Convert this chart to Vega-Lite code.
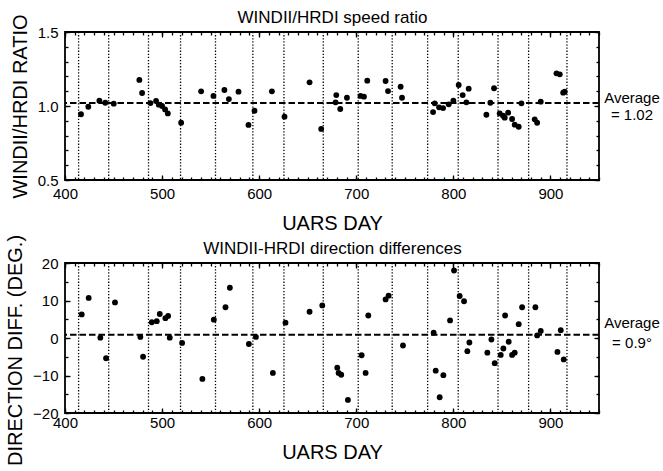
{
  "$schema": "https://vega.github.io/schema/vega-lite/v6.json",
  "padding": {"left": 4, "top": 7, "right": 5, "bottom": 5},
  "background": "white",
  "bounds": "flush",
  "spacing": 83,
  "datasets": {
    "ratio": [
      {"day": 416.5, "ratio": 0.944}, {"day": 424, "ratio": 0.995}, {"day": 435.4, "ratio": 1.036}, {"day": 441.5, "ratio": 1.022},
      {"day": 450.2, "ratio": 1.016}, {"day": 476.6, "ratio": 1.176}, {"day": 479.4, "ratio": 1.088}, {"day": 488, "ratio": 1.02},
      {"day": 493.8, "ratio": 1.034}, {"day": 496.6, "ratio": 1.009}, {"day": 500, "ratio": 1.0}, {"day": 503.1, "ratio": 0.977},
      {"day": 505.9, "ratio": 0.95}, {"day": 519.6, "ratio": 0.887}, {"day": 540.2, "ratio": 1.099}, {"day": 552.9, "ratio": 1.068},
      {"day": 564.2, "ratio": 1.108}, {"day": 568.8, "ratio": 1.047}, {"day": 578.7, "ratio": 1.097}, {"day": 589, "ratio": 0.872},
      {"day": 595.2, "ratio": 0.968}, {"day": 613.1, "ratio": 1.099}, {"day": 626.1, "ratio": 0.928}, {"day": 651.9, "ratio": 1.16},
      {"day": 663.9, "ratio": 0.845}, {"day": 679.4, "ratio": 1.074}, {"day": 678.7, "ratio": 1.025}, {"day": 683.5, "ratio": 0.98},
      {"day": 690.4, "ratio": 1.056}, {"day": 704.4, "ratio": 1.068}, {"day": 707.9, "ratio": 1.063}, {"day": 711.3, "ratio": 1.171},
      {"day": 730.2, "ratio": 1.169}, {"day": 732.7, "ratio": 1.101}, {"day": 745.7, "ratio": 1.13}, {"day": 747.1, "ratio": 1.056},
      {"day": 779.1, "ratio": 0.959}, {"day": 780.8, "ratio": 1.018}, {"day": 785.3, "ratio": 0.991}, {"day": 789.4, "ratio": 0.986},
      {"day": 795.2, "ratio": 1.011}, {"day": 800, "ratio": 1.036}, {"day": 805.5, "ratio": 1.142}, {"day": 809.6, "ratio": 1.074},
      {"day": 813.4, "ratio": 1.025}, {"day": 815.8, "ratio": 1.117}, {"day": 834, "ratio": 0.941}, {"day": 838.1, "ratio": 1.022},
      {"day": 841.9, "ratio": 1.12}, {"day": 847.7, "ratio": 0.95}, {"day": 851.2, "ratio": 0.934}, {"day": 852.9, "ratio": 0.921},
      {"day": 856.4, "ratio": 0.955}, {"day": 860.5, "ratio": 0.912}, {"day": 863.2, "ratio": 0.874}, {"day": 867.3, "ratio": 0.86},
      {"day": 870.1, "ratio": 1.018}, {"day": 883.8, "ratio": 0.91}, {"day": 886.3, "ratio": 0.887}, {"day": 890, "ratio": 1.029},
      {"day": 906.2, "ratio": 1.221}, {"day": 909.6, "ratio": 1.214}, {"day": 913.1, "ratio": 1.09}, {"day": 914.7, "ratio": 1.097}
    ],
    "diff": [
      {"day": 417.2, "diff": 6.3}, {"day": 424.4, "diff": 10.7}, {"day": 436.4, "diff": 0.1}, {"day": 442.3, "diff": -5.4},
      {"day": 451.5, "diff": 9.5}, {"day": 477.6, "diff": 0.3}, {"day": 480.4, "diff": -5.0}, {"day": 489.4, "diff": 4.2},
      {"day": 494.5, "diff": 4.5}, {"day": 497.6, "diff": 6.4}, {"day": 503.4, "diff": 5.3}, {"day": 506.2, "diff": 5.9},
      {"day": 507.9, "diff": 0.1}, {"day": 520.6, "diff": -1.3}, {"day": 541.5, "diff": -10.9}, {"day": 553.3, "diff": 4.9},
      {"day": 565.3, "diff": 8.2}, {"day": 569.8, "diff": 13.4}, {"day": 589.4, "diff": -1.6}, {"day": 596.6, "diff": 0.3},
      {"day": 614.1, "diff": -9.3}, {"day": 627.1, "diff": 4.1}, {"day": 651.9, "diff": 7.0}, {"day": 665, "diff": 8.7},
      {"day": 680.4, "diff": -7.9}, {"day": 681.8, "diff": -9.3}, {"day": 684.5, "diff": -9.8}, {"day": 691.4, "diff": -16.5},
      {"day": 705.5, "diff": -4.6}, {"day": 709.6, "diff": -9.3}, {"day": 712.4, "diff": 6.0}, {"day": 730.2, "diff": 10.3},
      {"day": 733.3, "diff": 11.3}, {"day": 748.1, "diff": -2.0}, {"day": 779.7, "diff": 1.4}, {"day": 781.8, "diff": -8.7},
      {"day": 789.7, "diff": -9.9}, {"day": 785.9, "diff": -15.8}, {"day": 796.6, "diff": 4.7}, {"day": 800.7, "diff": 18.0},
      {"day": 806.5, "diff": 11.2}, {"day": 811, "diff": 9.8}, {"day": 814.4, "diff": -3.5}, {"day": 816.5, "diff": -1.2},
      {"day": 835, "diff": -3.9}, {"day": 839.2, "diff": -0.4}, {"day": 842.6, "diff": -6.7}, {"day": 848.8, "diff": -4.5},
      {"day": 851.5, "diff": -2.8}, {"day": 853.3, "diff": 6.0}, {"day": 857, "diff": -1.0}, {"day": 860.5, "diff": -4.5},
      {"day": 863.2, "diff": -3.9}, {"day": 867.3, "diff": 3.7}, {"day": 870.8, "diff": 8.2}, {"day": 884.5, "diff": 8.2},
      {"day": 886.3, "diff": 0.7}, {"day": 890, "diff": 1.9}, {"day": 907.2, "diff": -3.7}, {"day": 910.6, "diff": 2.1},
      {"day": 913.7, "diff": -5.7}
    ],
    "yaw": [
      {"day": 414}, {"day": 445}, {"day": 486}, {"day": 519}, {"day": 555}, {"day": 593.5}, {"day": 625.5}, {"day": 666},
      {"day": 702}, {"day": 737}, {"day": 773.5}, {"day": 805}, {"day": 846}, {"day": 877.5}, {"day": 917}
    ],
    "avgRatio": [{"day": 950, "value": 1.02, "label": "= 1.02", "head": "Average"}],
    "avgDiff": [{"day": 950, "value": 0.9, "label": "= 0.9°", "head": "Average"}]
  },
  "vconcat": [
    {
      "width": 534,
      "height": 148,
      "resolve": {"axis": {"x": "independent", "y": "independent"}},
      "layer": [
        {
          "data": {"name": "yaw"},
          "mark": {"type": "rule", "color": "black", "strokeWidth": 1.3, "strokeDash": [1.3, 1.8]},
          "encoding": {
            "x": {"field": "day", "type": "quantitative", "scale": {"domain": [400, 950], "nice": false, "zero": false},
              "axis": {"orient": "bottom", "values": [400,410,420,430,440,450,460,470,480,490,500,510,520,530,540,550,560,570,580,590,600,610,620,630,640,650,660,670,680,690,700,710,720,730,740,750,760,770,780,790,800,810,820,830,840,850,860,870,880,890,900,910,920,930,940,950], "labels": false, "title": null, "tickSize": -3}}
          }
        },
        {
          "data": {"name": "avgRatio"},
          "mark": {"type": "rule", "color": "black", "strokeWidth": 2, "strokeDash": [6.5, 3]},
          "encoding": {
            "y": {"field": "value", "type": "quantitative", "scale": {"domain": [0.5, 1.5], "nice": false, "zero": false},
              "axis": {"orient": "left", "values": [0.5,0.6,0.7,0.8,0.9,1.0,1.1,1.2,1.3,1.4,1.5], "labels": false, "title": null, "tickSize": -3}}
          }
        },
        {
          "data": {"name": "ratio"},
          "mark": {"type": "point", "filled": true, "shape": "circle", "color": "black", "opacity": 1, "size": 34},
          "encoding": {
            "x": {"field": "day", "type": "quantitative", "scale": {"domain": [400, 950], "nice": false, "zero": false},
              "axis": {"orient": "bottom", "values": [400, 500, 600, 700, 800, 900], "tickSize": -5, "labelPadding": 11, "labelFontSize": 15, "title": "UARS DAY", "titleFontSize": 20, "titlePadding": 12}},
            "y": {"field": "ratio", "type": "quantitative", "scale": {"domain": [0.5, 1.5], "nice": false, "zero": false},
              "axis": {"orient": "left", "values": [0.5, 1.0, 1.5], "format": ".1f", "tickSize": -5, "labelPadding": 12, "labelFontSize": 15, "title": "WINDII/HRDI RATIO", "titleFontSize": 20, "titlePadding": 7}}
          }
        },
        {
          "data": {"name": "avgRatio"},
          "mark": {"type": "text", "align": "center", "baseline": "alphabetic", "dx": 33, "dy": 0, "fontSize": 15, "font": "Liberation Sans", "color": "black"},
          "encoding": {
            "x": {"field": "day", "type": "quantitative", "scale": {"domain": [400, 950], "nice": false, "zero": false},
              "axis": {"orient": "top", "values": [400,410,420,430,440,450,460,470,480,490,500,510,520,530,540,550,560,570,580,590,600,610,620,630,640,650,660,670,680,690,700,710,720,730,740,750,760,770,780,790,800,810,820,830,840,850,860,870,880,890,900,910,920,930,940,950], "labels": false, "title": null, "tickSize": -3}},
            "y": {"field": "value", "type": "quantitative", "scale": {"domain": [0.5, 1.5], "nice": false, "zero": false},
              "axis": {"orient": "right", "values": [0.5,0.6,0.7,0.8,0.9,1.0,1.1,1.2,1.3,1.4,1.5], "labels": false, "title": null, "tickSize": -3}},
            "text": {"field": "head"}
          }
        },
        {
          "data": {"name": "avgRatio"},
          "mark": {"type": "text", "align": "center", "baseline": "alphabetic", "dx": 33, "dy": 17, "fontSize": 15, "font": "Liberation Sans", "color": "black"},
          "encoding": {
            "x": {"field": "day", "type": "quantitative", "scale": {"domain": [400, 950], "nice": false, "zero": false},
              "axis": {"orient": "top", "values": [400, 500, 600, 700, 800, 900], "labels": false, "tickSize": -5, "title": "WINDII/HRDI speed ratio", "titleFontSize": 17, "titlePadding": 5}},
            "y": {"field": "value", "type": "quantitative", "scale": {"domain": [0.5, 1.5], "nice": false, "zero": false},
              "axis": {"orient": "right", "values": [0.5, 1.0, 1.5], "labels": false, "title": null, "tickSize": -5}},
            "text": {"field": "label"}
          }
        }
      ]
    },
    {
      "width": 534,
      "height": 150,
      "resolve": {"axis": {"x": "independent", "y": "independent"}},
      "layer": [
        {
          "data": {"name": "yaw"},
          "mark": {"type": "rule", "color": "black", "strokeWidth": 1.3, "strokeDash": [1.3, 1.8]},
          "encoding": {
            "x": {"field": "day", "type": "quantitative", "scale": {"domain": [400, 950], "nice": false, "zero": false},
              "axis": {"orient": "bottom", "values": [400,410,420,430,440,450,460,470,480,490,500,510,520,530,540,550,560,570,580,590,600,610,620,630,640,650,660,670,680,690,700,710,720,730,740,750,760,770,780,790,800,810,820,830,840,850,860,870,880,890,900,910,920,930,940,950], "labels": false, "title": null, "tickSize": -3}}
          }
        },
        {
          "data": {"name": "avgDiff"},
          "mark": {"type": "rule", "color": "black", "strokeWidth": 2, "strokeDash": [6.5, 3]},
          "encoding": {
            "y": {"field": "value", "type": "quantitative", "scale": {"domain": [-20, 20], "nice": false, "zero": false},
              "axis": {"orient": "left", "values": [-20,-15,-10,-5,0,5,10,15,20], "labels": false, "title": null, "tickSize": -3}}
          }
        },
        {
          "data": {"name": "diff"},
          "mark": {"type": "point", "filled": true, "shape": "circle", "color": "black", "opacity": 1, "size": 34},
          "encoding": {
            "x": {"field": "day", "type": "quantitative", "scale": {"domain": [400, 950], "nice": false, "zero": false},
              "axis": {"orient": "bottom", "values": [400, 500, 600, 700, 800, 900], "tickSize": -5, "labelPadding": 7, "labelFontSize": 15, "title": "UARS DAY", "titleFontSize": 20, "titlePadding": 12}},
            "y": {"field": "diff", "type": "quantitative", "scale": {"domain": [-20, 20], "nice": false, "zero": false},
              "axis": {"orient": "left", "values": [-20, -10, 0, 10, 20], "tickSize": -5, "labelPadding": 12, "labelFontSize": 15, "title": "DIRECTION DIFF. (DEG.)", "titleFontSize": 20, "titlePadding": 7, "titleY": 87}}
          }
        },
        {
          "data": {"name": "avgDiff"},
          "mark": {"type": "text", "align": "center", "baseline": "alphabetic", "dx": 33, "dy": -7, "fontSize": 15, "font": "Liberation Sans", "color": "black"},
          "encoding": {
            "x": {"field": "day", "type": "quantitative", "scale": {"domain": [400, 950], "nice": false, "zero": false},
              "axis": {"orient": "top", "values": [400,410,420,430,440,450,460,470,480,490,500,510,520,530,540,550,560,570,580,590,600,610,620,630,640,650,660,670,680,690,700,710,720,730,740,750,760,770,780,790,800,810,820,830,840,850,860,870,880,890,900,910,920,930,940,950], "labels": false, "title": null, "tickSize": -3}},
            "y": {"field": "value", "type": "quantitative", "scale": {"domain": [-20, 20], "nice": false, "zero": false},
              "axis": {"orient": "right", "values": [-20,-15,-10,-5,0,5,10,15,20], "labels": false, "title": null, "tickSize": -3}},
            "text": {"field": "head"}
          }
        },
        {
          "data": {"name": "avgDiff"},
          "mark": {"type": "text", "align": "center", "baseline": "alphabetic", "dx": 33, "dy": 13, "fontSize": 15, "font": "Liberation Sans", "color": "black"},
          "encoding": {
            "x": {"field": "day", "type": "quantitative", "scale": {"domain": [400, 950], "nice": false, "zero": false},
              "axis": {"orient": "top", "values": [400, 500, 600, 700, 800, 900], "labels": false, "tickSize": -5, "title": "WINDII-HRDI direction differences", "titleFontSize": 17, "titlePadding": 5}},
            "y": {"field": "value", "type": "quantitative", "scale": {"domain": [-20, 20], "nice": false, "zero": false},
              "axis": {"orient": "right", "values": [-20, -10, 0, 10, 20], "labels": false, "title": null, "tickSize": -5}},
            "text": {"field": "label"}
          }
        }
      ]
    }
  ],
  "config": {
    "view": {"stroke": "black", "strokeWidth": 1.8},
    "font": "Liberation Sans",
    "axis": {
      "domain": false, "grid": false, "labelFont": "Liberation Sans", "titleFont": "Liberation Sans",
      "labelColor": "black", "titleColor": "black", "tickColor": "black", "tickWidth": 1.3,
      "labelFlush": false, "labelOverlap": false, "titleFontWeight": "normal"
    }
  }
}
